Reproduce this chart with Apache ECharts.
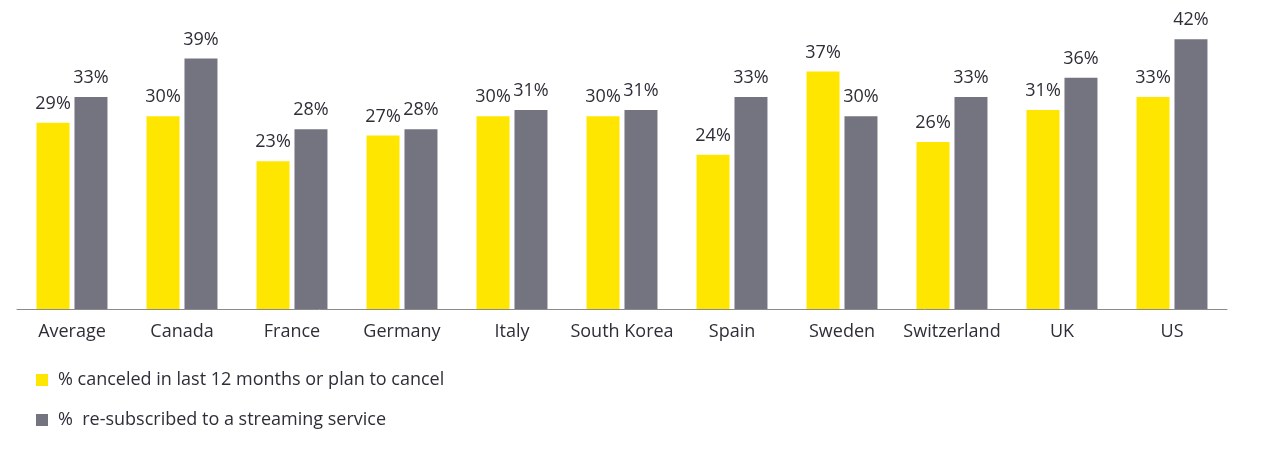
<!DOCTYPE html>
<html><head><meta charset="utf-8">
<script src="https://cdn.jsdelivr.net/npm/echarts@6/dist/echarts.min.js"></script>
<style>html,body{margin:0;padding:0;background:#fff}#c{width:1280px;height:454px}</style>
</head><body><div id="c"></div>
<script>
const categories = ["Average","Canada","France","Germany","Italy","South Korea","Spain","Sweden","Switzerland","UK","US"];
const canceled = [29,30,23,27,30,30,24,37,26,31,33];
const resubscribed = [33,39,28,28,31,31,33,30,33,36,42];
const seriesNames = ["% canceled in last 12 months or plan to cancel","%  re-subscribed to a streaming service"];

const FONT = "Open Sans";
const TXT = "#2e2e38";
const chart = echarts.init(document.getElementById('c'), null, {renderer:'canvas'});
const lbl = {show:true, position:'top', distance:10, color:TXT, fontFamily:FONT, fontSize:18, formatter:'{c}%'};
chart.setOption({
  animation:false,
  textStyle:{fontFamily:FONT},
  grid:{left:17, right:53, top:20, bottom:145, containLabel:false},
  legend:{
    orient:'vertical', left:36, top:369, padding:0, itemWidth:12, itemHeight:12, itemGap:18,
    icon:'rect',
    textStyle:{color:TXT, fontFamily:FONT, fontSize:18, lineHeight:22, padding:[0,0,0,5]},
    data:seriesNames
  },
  xAxis:{
    type:'category', data:categories,
    axisLine:{lineStyle:{color:'#8a8a8a', width:1}},
    axisTick:{show:false},
    axisLabel:{interval:0, color:TXT, fontFamily:FONT, fontSize:18, margin:14}
  },
  yAxis:{type:'value', min:0, max:45, show:false, splitLine:{show:false}},
  series:[
    {name:seriesNames[0], type:'bar', data:canceled, barWidth:33, barGap:'15%', itemStyle:{color:'#FFE600'}, label:lbl},
    {name:seriesNames[1], type:'bar', data:resubscribed, barWidth:33, itemStyle:{color:'#747480'}, label:lbl}
  ]
});
</script></body></html>
